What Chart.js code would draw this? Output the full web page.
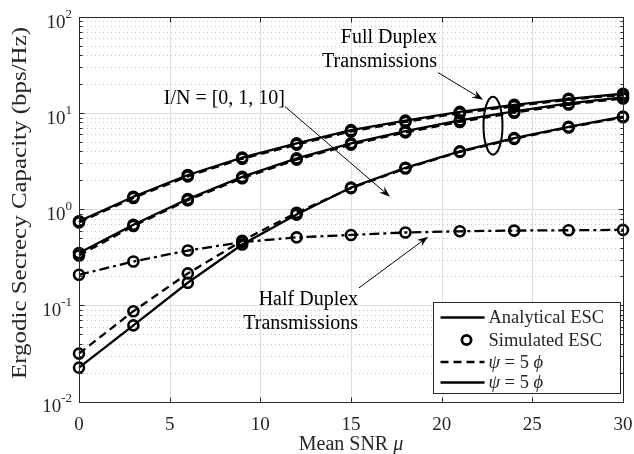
<!DOCTYPE html>
<html>
<head>
<meta charset="utf-8">
<script src="https://cdn.jsdelivr.net/npm/chart.js@4/dist/chart.umd.min.js"></script>
<style>
html,body{margin:0;padding:0;background:#fff;}
canvas{display:block;}
</style>
</head>
<body>
<canvas id="c" width="634" height="454"></canvas>
<script>
// ---- data ----
const snr = [0, 3, 6, 9, 12, 15, 18, 21, 24, 27, 30];
const fdIN0Analytical = [0.75, 1.35, 2.27, 3.45, 4.85, 6.65, 8.35, 10.3, 12.2, 14.1, 15.9];
const fdIN0Psi        = [0.73, 1.31, 2.20, 3.35, 4.70, 6.45, 8.10, 10.0, 11.8, 13.8, 15.5];
const fdIN1Analytical = [0.35, 0.69, 1.28, 2.17, 3.38, 4.85, 6.50, 8.40, 10.4, 12.6, 14.6];
const fdIN1Psi        = [0.33, 0.67, 1.24, 2.10, 3.28, 4.70, 6.30, 8.10, 10.1, 12.3, 14.2];
const fdIN10Analytical = [0.0225, 0.062, 0.172, 0.43, 0.88, 1.68, 2.70, 4.00, 5.50, 7.20, 9.20];
const fdIN10Psi        = [0.0315, 0.087, 0.215, 0.47, 0.92, 1.66, 2.65, 3.95, 5.40, 7.10, 9.05];
const hdAnalytical = [0.208, 0.286, 0.372, 0.455, 0.51, 0.54, 0.573, 0.59, 0.60, 0.605, 0.61];

const xTickLabels = ['0', '5', '10', '15', '20', '25', '30'];
const xTickValues = [0, 5, 10, 15, 20, 25, 30];
const yTickExponents = [-2, -1, 0, 1, 2];

const legendLabels = ['Analytical ESC', 'Simulated ESC', 'ψ = 5 ϕ', 'ψ = 5 ϕ'];
const xTitle = 'Mean SNR ';
const xTitleSym = 'μ';
const yTitle = 'Ergodic Secrecy Capacity (bps/Hz)';

// annotations in data coordinates
const annFullDuplex = {x: 19.74, y1: 61.2, y2: 34.4, lines: ['Full Duplex', 'Transmissions']};
const annFullArrow = {x0: 19.80, y0: 26.4, x1: 22.28, y1: 13.8};
const annEllipse = {x: 22.83, y: 7.41};
const annIN = {x: 11.36, y: 14.2, text: 'I/N = [0, 1, 10]'};
const annINArrow = {x0: 11.36, y0: 11.7, x1: 17.15, y1: 1.35};
const annHalfDuplex = {x: 15.39, y1: 0.114, y2: 0.0641, lines: ['Half Duplex', 'Transmissions']};
const annHalfArrow = {x0: 15.44, y0: 0.152, x1: 19.25, y1: 0.518};

const TXT = '#262626';
const SERIF = '"Liberation Serif", "Times New Roman", serif';

function pts(arr) { return snr.map((x, i) => ({x: x, y: arr[i]})); }
function ds(arr, dash) {
  return {
    data: pts(arr), borderColor: '#000', borderWidth: 2.3, borderDash: dash,
    pointRadius: 5, pointBorderWidth: 2.6, pointBorderColor: '#000',
    pointBackgroundColor: 'rgba(0,0,0,0)', fill: false, tension: 0, clip: false
  };
}
const DASH = [8, 5];
const DASHDOT = [10, 4, 3, 4];

function arrow(ctx, x0, y0, x1, y1) {
  ctx.save();
  ctx.strokeStyle = '#000'; ctx.fillStyle = '#000'; ctx.lineWidth = 1;
  const a = Math.atan2(y1 - y0, x1 - x0);
  const L = 11, W = 4;
  const bx = x1 - L * Math.cos(a), by = y1 - L * Math.sin(a);
  ctx.beginPath(); ctx.moveTo(x0, y0); ctx.lineTo(x1 - 6 * Math.cos(a), y1 - 6 * Math.sin(a)); ctx.stroke();
  ctx.beginPath();
  ctx.moveTo(x1, y1);
  ctx.lineTo(bx + W * Math.sin(a), by - W * Math.cos(a));
  ctx.lineTo(x1 - 0.65 * L * Math.cos(a), y1 - 0.65 * L * Math.sin(a));
  ctx.lineTo(bx - W * Math.sin(a), by + W * Math.cos(a));
  ctx.closePath(); ctx.fill();
  ctx.restore();
}

const decor = {
  id: 'decor',
  beforeDatasetsDraw(chart) {
    const {ctx, chartArea: ca, scales: {x, y}} = chart;
    ctx.save();
    // minor dotted horizontal grid
    ctx.strokeStyle = '#c4c4c4'; ctx.lineWidth = 1; ctx.setLineDash([1, 3]);
    for (let e = -2; e < 2; e++) {
      for (let m = 2; m <= 9; m++) {
        const py = Math.round(y.getPixelForValue(m * Math.pow(10, e))) + 0.5;
        ctx.beginPath(); ctx.moveTo(ca.left, py); ctx.lineTo(ca.right, py); ctx.stroke();
      }
    }
    // major grid
    ctx.setLineDash([]); ctx.strokeStyle = '#dedede';
    yTickExponents.forEach(e => {
      const py = Math.round(y.getPixelForValue(Math.pow(10, e))) + 0.5;
      ctx.beginPath(); ctx.moveTo(ca.left, py); ctx.lineTo(ca.right, py); ctx.stroke();
    });
    xTickValues.forEach(v => {
      const px = Math.round(x.getPixelForValue(v)) + 0.5;
      ctx.beginPath(); ctx.moveTo(px, ca.top); ctx.lineTo(px, ca.bottom); ctx.stroke();
    });
    ctx.restore();
  },
  afterDatasetsDraw(chart) {
    const {ctx, chartArea: ca, scales: {x, y}} = chart;
    ctx.save();
    // axes box
    ctx.strokeStyle = TXT; ctx.lineWidth = 1; ctx.setLineDash([]);
    const L = Math.round(ca.left) + 0.5, R = Math.round(ca.right) + 0.5;
    const T = Math.round(ca.top) + 0.5, B = Math.round(ca.bottom) + 0.5;
    ctx.strokeRect(L, T, R - L, B - T);
    // ticks
    ctx.beginPath();
    xTickValues.forEach(v => {
      const px = Math.round(x.getPixelForValue(v)) + 0.5;
      ctx.moveTo(px, B); ctx.lineTo(px, B - 5);
      ctx.moveTo(px, T); ctx.lineTo(px, T + 5);
    });
    for (let e = -2; e <= 2; e++) {
      for (let m = 1; m <= 9; m++) {
        if (e === 2 && m > 1) break;
        const py = Math.round(y.getPixelForValue(m * Math.pow(10, e))) + 0.5;
        const len = m === 1 ? 5 : 3;
        ctx.moveTo(L, py); ctx.lineTo(L + len, py);
        ctx.moveTo(R, py); ctx.lineTo(R - len, py);
      }
    }
    ctx.stroke();
    // x tick labels
    ctx.fillStyle = TXT;
    ctx.font = '19px ' + SERIF;
    ctx.textAlign = 'center'; ctx.textBaseline = 'alphabetic';
    xTickValues.forEach((v, i) => {
      ctx.fillText(xTickLabels[i], x.getPixelForValue(v), B + 27);
    });
    // y tick labels with superscripts
    yTickExponents.forEach(e => {
      const py = y.getPixelForValue(Math.pow(10, e));
      const es = String(e);
      ctx.font = '13px ' + SERIF;
      const we = ctx.measureText(es).width;
      ctx.font = '19px ' + SERIF;
      const wb = ctx.measureText('10').width;
      const right = 72;
      ctx.textAlign = 'left';
      ctx.fillText('10', right - we - wb, py + 10.5);
      ctx.font = '13px ' + SERIF;
      ctx.fillText(es, right - we, py + 0.5);
    });
    // x title
    ctx.font = '20px ' + SERIF;
    const w1 = ctx.measureText(xTitle).width;
    ctx.font = 'italic 20px ' + SERIF;
    const w2 = ctx.measureText(xTitleSym).width;
    const cx = (ca.left + ca.right) / 2;
    ctx.textAlign = 'left';
    ctx.font = '20px ' + SERIF;
    ctx.fillText(xTitle, cx - (w1 + w2) / 2, 450);
    ctx.font = 'italic 20px ' + SERIF;
    ctx.fillText(xTitleSym, cx - (w1 + w2) / 2 + w1, 450);
    // y title
    ctx.save();
    ctx.translate(26, 203);
    ctx.rotate(-Math.PI / 2);
    ctx.font = '22px ' + SERIF;
    const wy = ctx.measureText(yTitle).width;
    ctx.scale(352 / wy, 1);
    ctx.textAlign = 'center';
    ctx.fillText(yTitle, 0, 0);
    ctx.restore();

    // annotations
    ctx.fillStyle = '#000';
    ctx.font = '20px ' + SERIF;
    ctx.textAlign = 'right'; ctx.textBaseline = 'middle';
    ctx.fillText(annFullDuplex.lines[0], x.getPixelForValue(annFullDuplex.x), y.getPixelForValue(annFullDuplex.y1));
    ctx.fillText(annFullDuplex.lines[1], x.getPixelForValue(annFullDuplex.x), y.getPixelForValue(annFullDuplex.y2));
    ctx.fillText(annHalfDuplex.lines[0], x.getPixelForValue(annHalfDuplex.x), y.getPixelForValue(annHalfDuplex.y1));
    ctx.fillText(annHalfDuplex.lines[1], x.getPixelForValue(annHalfDuplex.x), y.getPixelForValue(annHalfDuplex.y2));
    ctx.fillText(annIN.text, x.getPixelForValue(annIN.x), y.getPixelForValue(annIN.y));
    arrow(ctx, x.getPixelForValue(annFullArrow.x0), y.getPixelForValue(annFullArrow.y0),
               x.getPixelForValue(annFullArrow.x1), y.getPixelForValue(annFullArrow.y1));
    arrow(ctx, x.getPixelForValue(annINArrow.x0), y.getPixelForValue(annINArrow.y0),
               x.getPixelForValue(annINArrow.x1), y.getPixelForValue(annINArrow.y1));
    arrow(ctx, x.getPixelForValue(annHalfArrow.x0), y.getPixelForValue(annHalfArrow.y0),
               x.getPixelForValue(annHalfArrow.x1), y.getPixelForValue(annHalfArrow.y1));
    ctx.lineWidth = 2; ctx.strokeStyle = '#000';
    ctx.beginPath();
    ctx.ellipse(x.getPixelForValue(annEllipse.x), y.getPixelForValue(annEllipse.y), 9.5, 29, 0, 0, Math.PI * 2);
    ctx.stroke();

    // legend
    const bw = 187, bh = 91;
    const bx = Math.round(ca.right) - 3 - bw + 0.5, by = Math.round(ca.bottom) - 9 - bh + 0.5;
    ctx.fillStyle = '#fff';
    ctx.fillRect(bx, by, bw, bh);
    ctx.strokeStyle = TXT; ctx.lineWidth = 1;
    ctx.strokeRect(bx, by, bw, bh);
    const rows = [15, 37.5, 59.5, 80];
    const styles = ['solid', 'marker', 'dash', 'solid'];
    rows.forEach((ry, i) => {
      const yy = by + ry;
      ctx.strokeStyle = '#000'; ctx.lineWidth = 2.6;
      if (styles[i] === 'marker') {
        ctx.setLineDash([]);
        ctx.lineWidth = 2.8;
        ctx.beginPath(); ctx.arc(bx + 33, yy, 4.6, 0, Math.PI * 2); ctx.stroke();
      } else {
        ctx.setLineDash(styles[i] === 'dash' ? DASH : []);
        ctx.beginPath(); ctx.moveTo(bx + 7, yy); ctx.lineTo(bx + 51, yy); ctx.stroke();
      }
      ctx.setLineDash([]);
      ctx.fillStyle = TXT;
      ctx.textAlign = 'left'; ctx.textBaseline = 'middle';
      const tx = bx + 55;
      if (i < 2) {
        ctx.font = '18.5px ' + SERIF;
        ctx.fillText(legendLabels[i], tx, yy + 1);
      } else {
        // psi = 5 phi with italic greek
        const lab = legendLabels[i];
        const parts = [[lab[0], true], [lab.slice(1, lab.length - 1), false], [lab[lab.length - 1], true]];
        let cxp = tx;
        parts.forEach(p => {
          ctx.font = (p[1] ? 'italic ' : '') + '18.5px ' + SERIF;
          ctx.fillText(p[0], cxp, yy + 1);
          cxp += ctx.measureText(p[0]).width;
        });
      }
    });
    ctx.restore();
  }
};

new Chart(document.getElementById('c'), {
  type: 'line',
  data: {
    datasets: [
      ds(hdAnalytical, DASHDOT),
      ds(fdIN10Psi, DASH),
      ds(fdIN10Analytical, []),
      ds(fdIN1Psi, DASH),
      ds(fdIN1Analytical, []),
      ds(fdIN0Psi, DASH),
      ds(fdIN0Analytical, [])
    ]
  },
  options: {
    responsive: false, animation: false, devicePixelRatio: 1,
    layout: {padding: {left: 0, right: 11, top: 17, bottom: 0}},
    plugins: {legend: {display: false}, tooltip: {enabled: false}},
    scales: {
      x: {type: 'linear', min: 0, max: 30,
          ticks: {display: false, stepSize: 5}, grid: {display: false}, border: {display: false},
          afterFit(s) { s.height = 52.5; }},
      y: {type: 'logarithmic', min: 0.01, max: 100,
          ticks: {display: false}, grid: {display: false}, border: {display: false},
          afterFit(s) { s.width = 79; }}
    }
  },
  plugins: [decor]
});
</script>
</body>
</html>
